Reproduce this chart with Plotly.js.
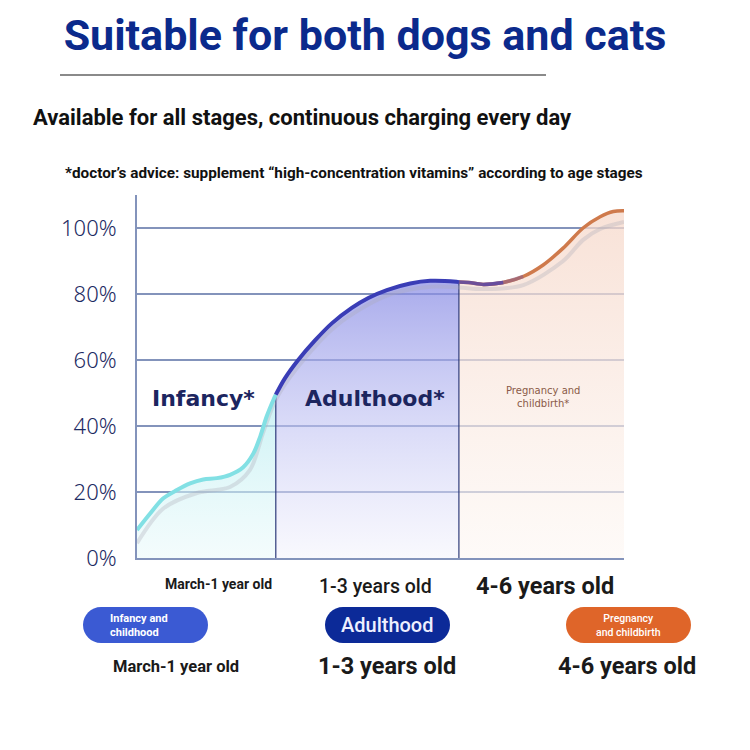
<!DOCTYPE html>
<html>
<head>
<meta charset="utf-8">
<script src="https://cdn.plot.ly/plotly-3.0.1.min.js"></script>
<style>html,body{margin:0;padding:0;background:#fff;}#chart{width:750px;height:750px;}</style>
</head>
<body>
<div id="chart"></div>
<script>
// ---- data (x = position along the life timeline, 0-100; y = percent) ----
const stageNames = ['Infancy*', 'Adulthood*', 'Pregnancy and<br>childbirth*'];
const ageLabelsTop = ['March-1 year old', '1-3 years old', '4-6 years old'];
const pillLabels = ['Infancy and<br>childhood', 'Adulthood', 'Pregnancy<br>and childbirth'];
const ageLabelsBottom = ['March-1 year old', '1-3 years old', '4-6 years old'];
const yTicks = [0, 20, 40, 60, 80, 100];
const yTickText = ['0%', '20%', '40%', '60%', '80%', '100%'];

const infancyX = [0, 2.7, 5.4, 8.2, 10.9, 13.6, 16.4, 19.1, 21.8, 23.9, 25.3, 26.6, 28.0, 28.5];
const infancyY = [8.5, 13.5, 18.1, 20.6, 22.6, 23.8, 24.2, 25.2, 27.5, 31.7, 36.8, 42.8, 47.9, 49.5];

const adultX = [28.5, 30.4, 33.1, 36.6, 40.0, 44.1, 47.5, 51.3, 56.1, 60.2, 65.6, 66.1];
const adultY = [49.5, 54.5, 60.0, 66.0, 71.1, 75.8, 78.8, 81.2, 83.2, 84.0, 83.7, 83.6];

const transX = [66.1, 68.1, 71.1, 75.2];
const transY = [83.6, 83.5, 82.9, 83.5];
const blendX = [71.1, 75.2, 79.3];
const blendY = [82.9, 83.5, 85.3];

const pregX = [66.1, 68.1, 71.1, 75.2, 79.3, 83.4, 87.5, 91.6, 95.1, 97.8, 100];
const pregY = [83.6, 83.5, 82.9, 83.5, 85.3, 88.8, 93.9, 100.0, 103.4, 105.0, 105.2];

const shadowX = [0, 5.4, 12.3, 19.1, 23.2, 25.9, 28.5, 32.8, 41.0, 51.3, 60.2, 66.1, 71.1, 79.3, 87.5, 91.6, 95.1, 100];
const shadowY = [4.5, 15.0, 19.7, 21.5, 26.7, 38.0, 48.0, 57.5, 70.5, 79.5, 82.2, 82.0, 81.5, 82.7, 90.0, 96.4, 99.7, 101.8];

const boundaryX = [28.5, 66.1];
const boundaryTop = [49.5, 83.6];

// ---- geometry helpers (pixel -> paper) ----
const W = 750, H = 750, ML = 137, MR = 126, MT = 195, MB = 192;
const PW = W - ML - MR, PH = H - MT - MB;
const px = x => (x - ML) / PW;
const py = y => (H - MB - y) / PH;

function ann(text, x, y, size, color, opts) {
  opts = opts || {};
  return Object.assign({
    text: text, xref: 'paper', yref: 'paper', x: px(x), y: py(y),
    xanchor: 'center', yanchor: 'middle', showarrow: false, align: 'center',
    font: {family: opts.family || 'Roboto, sans-serif', size: size, color: color, weight: opts.weight || 700}
  }, opts.extra || {});
}

function pillPath(w, h) {
  const r = h / 2, a = w / 2 - r, k = 0.5523 * r;
  const f = n => n.toFixed(2);
  return `M ${f(-a)},${f(-r)} L ${f(a)},${f(-r)} C ${f(a + k)},${f(-r)} ${f(a + r)},${f(-k)} ${f(a + r)},0 ` +
         `C ${f(a + r)},${f(k)} ${f(a + k)},${f(r)} ${f(a)},${f(r)} L ${f(-a)},${f(r)} ` +
         `C ${f(-a - k)},${f(r)} ${f(-a - r)},${f(k)} ${f(-a - r)},0 C ${f(-a - r)},${f(-k)} ${f(-a - k)},${f(-r)} ${f(-a)},${f(-r)} Z`;
}
function pill(cx, cy, w, h, color) {
  return {type: 'path', xref: 'paper', yref: 'paper', xsizemode: 'pixel', ysizemode: 'pixel',
    xanchor: px(cx), yanchor: py(cy), path: pillPath(w, h), fillcolor: color, line: {width: 0}, layer: 'above'};
}

const sp = {shape: 'spline', smoothing: 0.9};

const traces = [
  // fills
  {x: infancyX, y: infancyY, mode: 'lines', line: Object.assign({width: 0}, sp), fill: 'tozeroy',
   fillgradient: {type: 'vertical', start: 0, stop: 50, colorscale: [[0, 'rgba(232,249,250,0.5)'], [1, 'rgba(180,236,240,0.7)']]},
   hoverinfo: 'skip', showlegend: false},
  {x: adultX, y: adultY, mode: 'lines', line: Object.assign({width: 0}, sp), fill: 'tozeroy',
   fillgradient: {type: 'vertical', start: 0, stop: 84, colorscale: [[0, 'rgba(242,242,252,0.5)'], [0.5, 'rgba(190,192,242,0.6)'], [1, 'rgba(135,138,228,0.72)']]},
   hoverinfo: 'skip', showlegend: false},
  {x: pregX, y: pregY, mode: 'lines', line: Object.assign({width: 0}, sp), fill: 'tozeroy',
   fillgradient: {type: 'vertical', start: 0, stop: 105, colorscale: [[0, 'rgba(253,247,243,0.6)'], [1, 'rgba(246,216,202,0.75)']]},
   hoverinfo: 'skip', showlegend: false},
  // boundaries
  {x: [boundaryX[0], boundaryX[0]], y: [0, boundaryTop[0]], mode: 'lines', line: {color: '#2e3a7a', width: 1.2}, hoverinfo: 'skip', showlegend: false},
  {x: [boundaryX[1], boundaryX[1]], y: [0, boundaryTop[1]], mode: 'lines', line: {color: '#2e3a7a', width: 1.2}, hoverinfo: 'skip', showlegend: false},
  // shadow
  {x: shadowX, y: shadowY, mode: 'lines', line: Object.assign({color: 'rgba(170,170,185,0.32)', width: 4}, sp), hoverinfo: 'skip', showlegend: false},
  // curves
  {x: infancyX, y: infancyY, mode: 'lines', line: Object.assign({color: '#82e0e4', width: 4}, sp), hoverinfo: 'skip', showlegend: false},
  {x: pregX, y: pregY, mode: 'lines', line: Object.assign({color: '#cf7a4c', width: 3.5}, sp), hoverinfo: 'skip', showlegend: false},
  {x: blendX, y: blendY, mode: 'lines', line: Object.assign({color: 'rgba(150,100,130,0.7)', width: 3.5}, sp), hoverinfo: 'skip', showlegend: false},
  {x: transX, y: transY, mode: 'lines', line: Object.assign({color: 'rgba(90,72,166,0.85)', width: 3.5}, sp), hoverinfo: 'skip', showlegend: false},
  {x: adultX, y: adultY, mode: 'lines', line: Object.assign({color: '#3a3db6', width: 4}, sp), hoverinfo: 'skip', showlegend: false}
];

const gridColor = '#8393bb';

const annotations = [
  ann('Available for all stages, continuous charging every day', 302, 118, 22, '#111'),
  ann('*doctor\u2019s advice: supplement \u201chigh-concentration vitamins\u201d according to age stages', 354, 173, 15.3, '#111'),
  ann(stageNames[0], 203, 398, 22, '#1c255f', {family: 'DejaVu Sans, sans-serif'}),
  ann(stageNames[1], 375, 398, 22, '#1c255f', {family: 'DejaVu Sans, sans-serif'}),
  ann(stageNames[2], 543, 397, 10, '#8a5a48', {family: 'DejaVu Sans, sans-serif', weight: 400}),
  ann(ageLabelsTop[0], 218, 584, 14, '#1a1a1a'),
  ann(ageLabelsTop[1], 375, 586, 19.5, '#1a1a1a', {weight: 500}),
  ann(ageLabelsTop[2], 545, 586, 23.5, '#1a1a1a'),
  ann(pillLabels[0], 108, 625, 11, '#ffffff', {extra: {xanchor: 'left', align: 'left'}}),
  ann(pillLabels[1], 387, 625, 20, '#eef0ff', {weight: 500}),
  ann(pillLabels[2], 628, 625, 10.5, '#ffffff', {weight: 500}),
  ann(ageLabelsBottom[0], 176, 666, 16.5, '#1a1a1a'),
  ann(ageLabelsBottom[1], 387, 666, 23.5, '#1a1a1a'),
  ann(ageLabelsBottom[2], 627, 666, 23.5, '#1a1a1a')
];

const shapes = [
  {type: 'line', xref: 'paper', yref: 'paper', x0: px(60), x1: px(546), y0: py(75), y1: py(75), line: {color: '#8a8a8a', width: 2}},
  pill(145.5, 625, 125, 36, '#3b5ad3'),
  pill(387.5, 625, 125, 36, '#0c2a98'),
  pill(628.5, 625, 125, 36, '#df6529')
];

const layout = {
  width: W, height: H,
  margin: {l: ML, r: MR, t: MT, b: MB, pad: 0},
  paper_bgcolor: '#ffffff', plot_bgcolor: '#ffffff',
  title: {text: 'Suitable for both dogs and cats', x: 365 / W, xref: 'container', xanchor: 'center',
          y: 1 - 35 / H, yref: 'container', yanchor: 'middle',
          font: {family: 'Roboto, sans-serif', size: 43, color: '#0b2a8c', weight: 700}},
  xaxis: {range: [0, 100], showgrid: false, zeroline: false, showticklabels: false, ticks: '',
          showline: true, linecolor: gridColor, linewidth: 2, fixedrange: true},
  yaxis: {range: [0, 110], tickmode: 'array', tickvals: yTicks, ticktext: yTickText, showgrid: true, gridcolor: gridColor, gridwidth: 2,
          zeroline: false, showline: true, linecolor: gridColor, linewidth: 2, ticks: '',
          ticklabelstandoff: 14,
          tickfont: {family: 'Noto Sans, sans-serif', size: 22, color: '#1d2b63', weight: 300}, fixedrange: true},
  annotations: annotations,
  shapes: shapes,
  showlegend: false
};

Plotly.newPlot('chart', traces, layout, {staticPlot: true, displayModeBar: false});
</script>
</body>
</html>
